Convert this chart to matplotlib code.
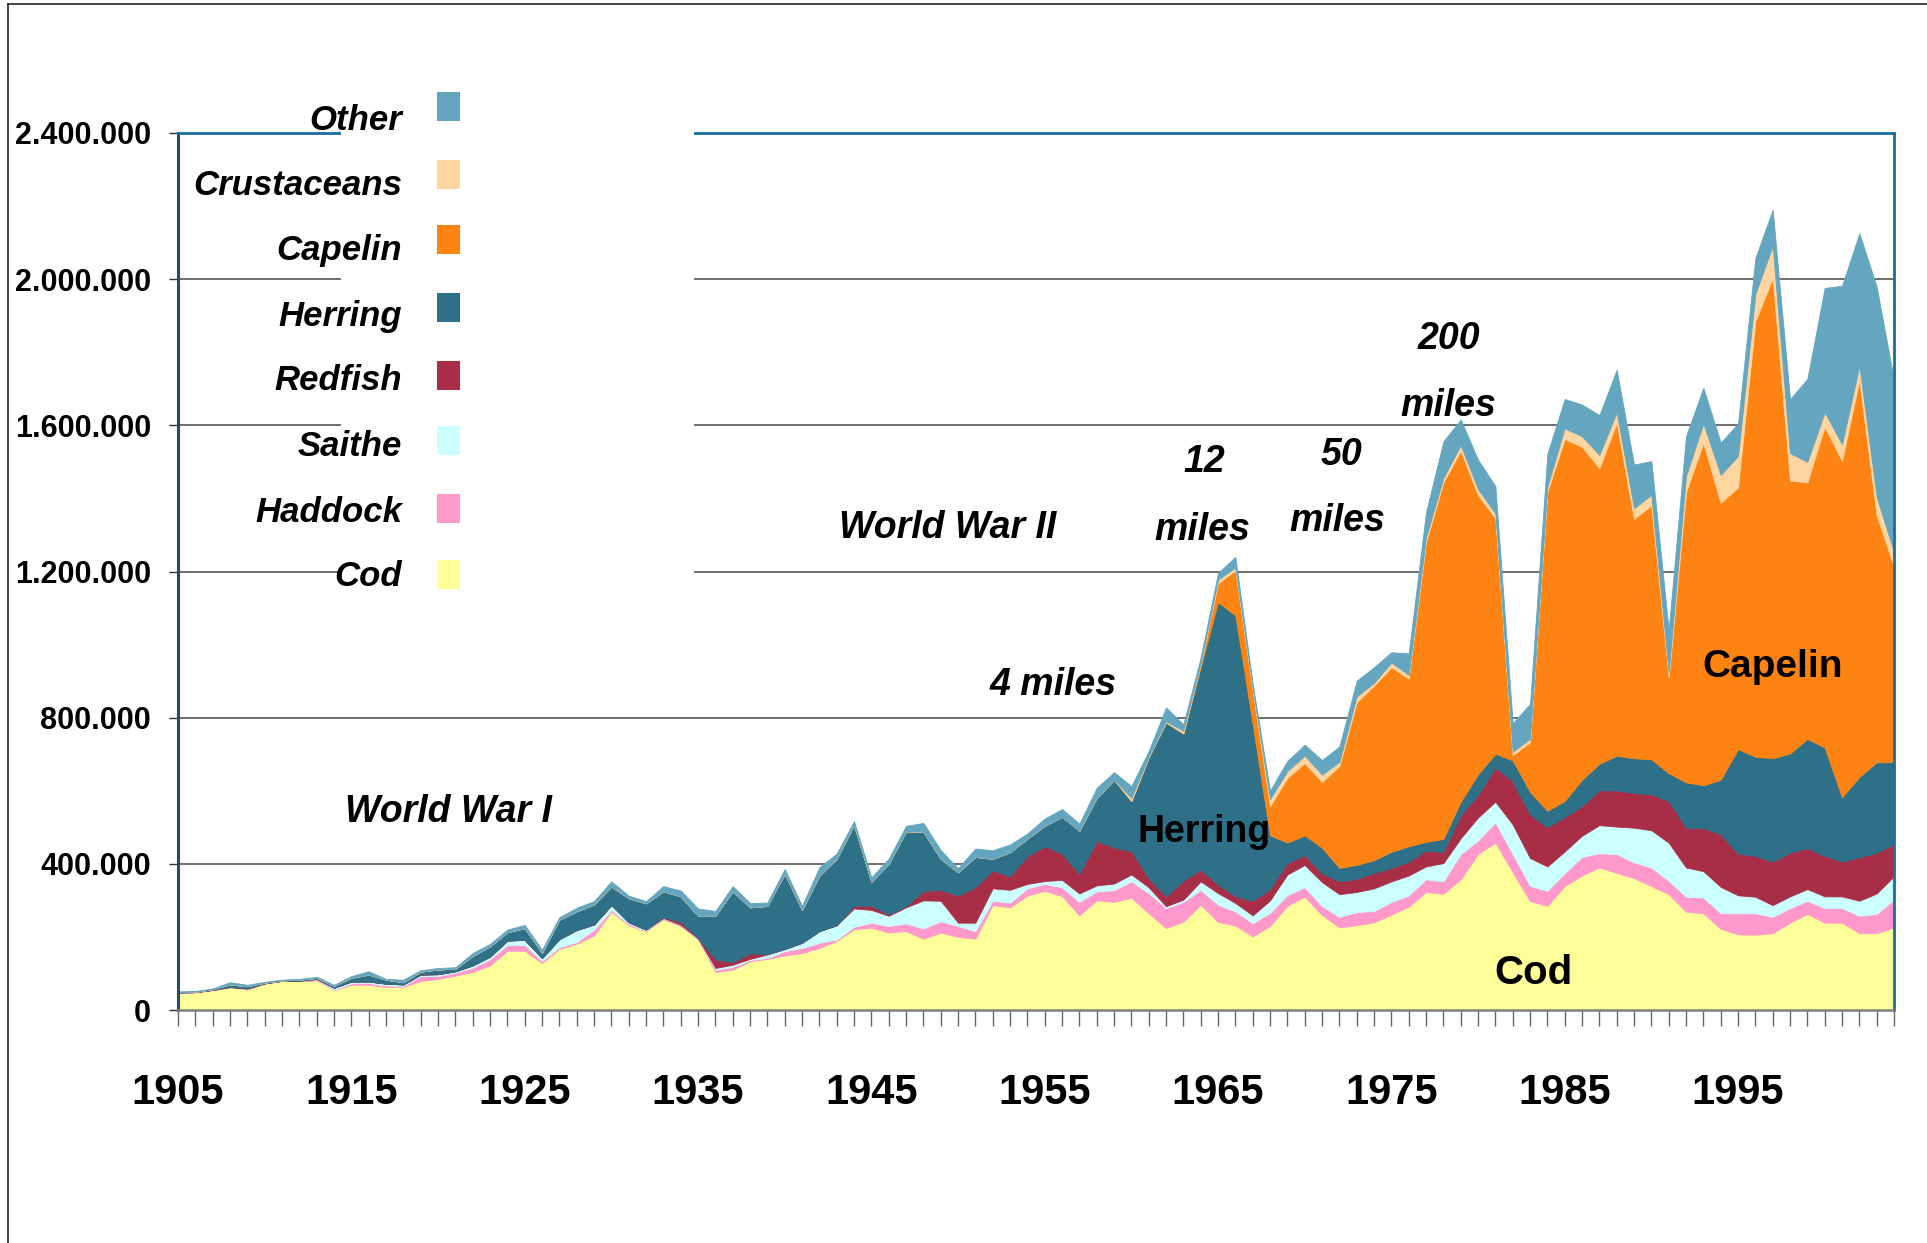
import numpy as np
import matplotlib
matplotlib.use('Agg')
import matplotlib.pyplot as plt
from matplotlib.patches import Rectangle
from matplotlib.lines import Line2D
from matplotlib.ticker import FuncFormatter

plt.rcParams['font.family'] = ['Liberation Sans', 'DejaVu Sans']
plt.rcParams['font.weight'] = 'bold'

years = np.arange(1905, 2005)

# catch by species, thousand tonnes
cod = [46, 48, 54, 62, 56, 72, 79, 79, 81, 54,
       69, 69, 63, 63, 79, 85, 94, 104, 122, 162,
       162, 128, 167, 181, 204, 269, 232, 215, 248, 230,
       193, 104, 110, 133, 140, 149, 156, 170, 189, 221,
       225, 212, 216, 195, 212, 200, 195, 287, 281, 313,
       326, 312, 259, 300, 296, 307, 265, 224, 242, 288,
       241, 231, 201, 230, 285, 310, 260, 226, 232, 240,
       261, 283, 323, 318, 358, 427, 458, 377, 298, 285,
       339, 368, 390, 375, 361, 339, 317, 269, 265, 222,
       207, 206, 210, 239, 263, 239, 239, 210, 210, 226]
haddock = [2, 1, 1, 1, 3, 1, 1, 1, 3, 2,
           4, 5, 4, 3, 14, 8, 8, 12, 17, 16,
           16, 6, 5, 5, 16, 5, 4, 2, 3, 2,
           2, 6, 8, 4, 3, 12, 14, 14, 4, 7,
           14, 18, 21, 28, 31, 30, 21, 12, 13, 20,
           19, 24, 37, 25, 32, 45, 55, 55, 54, 41,
           47, 39, 37, 36, 30, 26, 25, 29, 36, 31,
           35, 31, 35, 34, 69, 37, 56, 50, 42, 41,
           36, 51, 39, 52, 43, 51, 37, 41, 43, 43,
           58, 59, 45, 40, 36, 40, 40, 48, 53, 77]
saithe = [0, 0, 0, 0, 0, 0, 0, 0, 1, 5,
          5, 4, 5, 4, 4, 5, 4, 6, 7, 12,
          14, 8, 22, 33, 14, 13, 4, 3, 1, 1,
          1, 5, 6, 3, 9, 6, 14, 32, 39, 50,
          35, 28, 44, 77, 56, 9, 23, 34, 35, 12,
          8, 20, 23, 16, 18, 19, 16, 5, 6, 23,
          32, 23, 21, 34, 56, 61, 65, 62, 55, 62,
          56, 54, 35, 50, 43, 63, 56, 81, 76, 67,
          59, 58, 77, 75, 95, 102, 104, 80, 72, 72,
          49, 45, 32, 32, 32, 32, 32, 41, 56, 63]
redfish = [0] * 28 + [2, 8, 2, 23, 7, 15, 1, 0, 0, 0, 0, 7,
                      11, 4, 4, 25, 30, 74, 97, 49, 37, 76,
                      95, 72, 53, 122, 99, 64, 25, 27, 52, 32,
                      23, 18, 40, 31, 31, 27, 24, 35, 36, 42,
                      37, 38, 43, 31, 63, 62, 94, 118, 119, 107,
                      94, 81, 95, 99, 95, 98, 114, 109, 118, 144,
                      114, 112, 119, 119, 112, 111, 95, 119, 111, 88]
herring = [1, 1, 2, 7, 6, 2, 1, 3, 3, 5,
           10, 19, 11, 6, 8, 13, 7, 26, 28, 23,
           32, 15, 53, 51, 55, 51, 66, 72, 71, 70,
           60, 120, 194, 126, 132, 206, 90, 152, 182, 221,
           66, 138, 204, 163, 85, 64, 83, 32, 66, 48,
           56, 101, 119, 117, 185, 137, 330, 476, 403, 554,
           773, 769, 483, 147, 56, 54, 70, 37, 38, 35,
           44, 42, 24, 35, 37, 56, 37, 57, 62, 45,
           44, 72, 73, 95, 95, 96, 76, 124, 117, 149,
           286, 271, 283, 272, 299, 296, 176, 220, 248, 224]
capelin = [0] * 59 + [9, 52, 123, 92, 80, 177, 198, 180, 279, 445, 478,
                      505, 459, 821, 976, 961, 764, 645, 14, 136, 873,
                      991, 911, 809, 911, 655, 695, 262, 794, 937, 758,
                      716, 1192, 1314, 747, 702, 878, 921, 1086, 675, 535]
crustaceans = [0] * 55 + [8, 2, 3, 7, 3, 10, 8, 7, 19, 19,
                          20, 20, 11, 16, 7, 13, 10, 13, 12, 15,
                          16, 13, 10, 9, 14, 29, 29, 36, 29, 29,
                          29, 15, 44, 53, 76, 86, 74, 88, 75, 56,
                          40, 45, 39, 51, 39]
other = [2, 2, 2, 6, 4, 2, 2, 2, 3, 3,
         5, 9, 2, 7, 4, 4, 4, 8, 7, 7,
         9, 8, 7, 10, 9, 14, 7, 6, 14, 16,
         20, 13, 14, 12, 9, 13, 11, 23, 14, 11,
         12, 14, 15, 24, 24, 11, 23, 23, 21, 14,
         20, 21, 19, 28, 21, 33, 16, 38, 18, 15,
         18, 29, 11, 23, 28, 30, 40, 42, 43, 43,
         28, 59, 68, 100, 70, 81, 75, 78, 96, 90,
         80, 87, 109, 116, 120, 92, 115, 109, 98, 89,
         89, 99, 99, 148, 227, 340, 434, 363, 575, 472]

names = ['Cod', 'Haddock', 'Saithe', 'Redfish', 'Herring', 'Capelin', 'Crustaceans', 'Other']
series = [cod, haddock, saithe, redfish, herring, capelin, crustaceans, other]
colors = ['#FFFF99', '#FF99CC', '#CCFFFF', '#A82E48', '#2D7088', '#FD8412', '#FFD5A0', '#64A6C0']

W, H = 1927, 1243
fig = plt.figure(figsize=(W / 100, H / 100), dpi=100)
ax = fig.add_axes([178 / W, 1 - 1010 / H, (1894 - 178) / W, (1010 - 133) / H])

# stacked areas
bottom = np.zeros(len(years))
for vals, c in zip(series, colors):
    top = bottom + np.array(vals) * 1000
    ax.fill_between(years, bottom, top, facecolor=c, edgecolor=c, linewidth=0.6, zorder=2)
    bottom = top

ax.set_xlim(1905, 2004)
ax.set_ylim(0, 2400000)

ax.set_yticks(range(0, 2400001, 400000))
ax.yaxis.set_major_formatter(FuncFormatter(lambda v, p: f'{int(v):,}'.replace(',', '.')))
ax.yaxis.grid(True, color='#555555', linewidth=1.2)
ax.set_axisbelow(True)

ax.set_xticks(range(1905, 2000, 10))
ax.set_xticks(range(1905, 2005), minor=True)
ax.tick_params(axis='x', which='both', length=11.5, width=1, color='#666666', direction='out')
ax.tick_params(axis='x', which='major', labelsize=30, pad=34)
ax.tick_params(axis='y', length=6.5, width=1, color='#333333', labelsize=22, pad=13)

ax.spines['left'].set_color('#1F4E6B')
ax.spines['left'].set_linewidth(2.2)
ax.spines['top'].set_color('#1A6E9E')
ax.spines['top'].set_linewidth(2)
ax.spines['right'].set_color('#1A6E9E')
ax.spines['right'].set_linewidth(2)
ax.spines['bottom'].set_color('#7F7F7F')
ax.spines['bottom'].set_linewidth(1.8)

def fx(px):
    return px / W

def fy(py):
    return 1 - py / H

# white legend box interrupting the grid
fig.add_artist(Rectangle((fx(341), fy(610)), (694 - 341) / W, 550 / H,
                         transform=fig.transFigure, facecolor='white', edgecolor='none', zorder=1))

# legend (top to bottom: Other ... Cod)
box_y = [107, 175, 240, 308, 376, 441, 509, 575]
text_base = [130, 195, 260, 326, 390, 456, 522, 586]
for name, c, by, tb in zip(names[::-1], colors[::-1], box_y, text_base):
    fig.add_artist(Rectangle((fx(437), fy(by + 14)), 23 / W, 29 / H,
                             transform=fig.transFigure, facecolor=c, edgecolor='none', zorder=2))
    fig.text(fx(402), fy(tb), name, ha='right', va='baseline', fontsize=25,
             fontstyle='italic', fontweight='bold', zorder=3)

# annotations
ital = dict(fontsize=27, fontstyle='italic', fontweight='bold', ha='center', va='center', zorder=5)
plain = dict(fontsize=27, fontweight='bold', ha='center', va='center', zorder=5)
ax.text(1920.6, 542000, 'World War I', **ital)
ax.text(1949.4, 1319000, 'World War II', **ital)
ax.text(1955.5, 889000, '4 miles', **ital)
ax.text(1964.2, 1499000, '12', **ital)
ax.text(1964.1, 1313000, 'miles', **ital)
ax.text(1972.1, 1518000, '50', **ital)
ax.text(1971.9, 1338000, 'miles', **ital)
ax.text(1978.3, 1836000, '200', **ital)
ax.text(1978.3, 1653000, 'miles', **ital)
ax.text(1964.2, 487000, 'Herring', **plain)
ax.text(1997.0, 938000, 'Capelin', fontsize=28, fontweight='bold', ha='center', va='center', zorder=5)
ax.text(1983.2, 101000, 'Cod', fontsize=29, fontweight='bold', ha='center', va='center', zorder=5)

# outer frame (top and left edges)
fig.add_artist(Line2D([fx(8), fx(8)], [fy(4), 0], color='#222222', linewidth=1.2))
fig.add_artist(Line2D([fx(8), 1], [fy(4), fy(4)], color='#222222', linewidth=1.2))

fig.savefig('out.png', dpi=100)
